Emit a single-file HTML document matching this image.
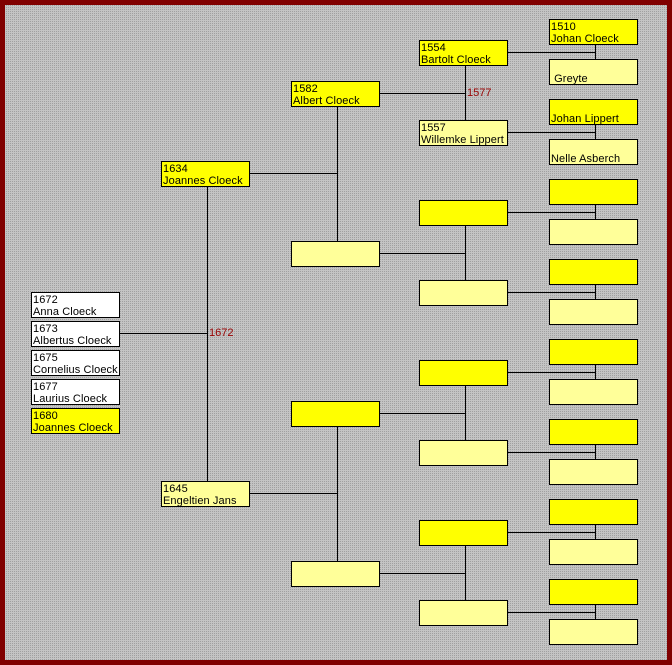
<!DOCTYPE html>
<html><head><meta charset="utf-8"><style>
html,body{margin:0;padding:0}
body{width:672px;height:665px;position:relative;overflow:hidden;background:#800000;font-family:"Liberation Sans",Arial,sans-serif}
#bg{position:absolute;left:5px;top:5px;width:662px;height:655px;background:conic-gradient(#a0a0a0 25%,#c4c4c4 0) 0 0/2px 2px}
.b{position:absolute;width:89px;height:26px;box-sizing:border-box;border:1px solid #000;font-size:11px;line-height:12px;padding:1px 0 0 1px;color:#000;white-space:nowrap;overflow:hidden;letter-spacing:0.1px}
.y{background:#ffff00}.l{background:#ffff99}.w{background:#fff}
.h{position:absolute;height:1px;background:#000}
.v{position:absolute;width:1px;background:#000}
.t{position:absolute;font-size:11px;color:#990000;line-height:12px}
</style></head><body><div id="bg"></div>

<div class="h" style="left:119px;top:333px;width:88px"></div>
<div class="v" style="left:207px;top:186px;height:295px"></div>
<div class="t" style="left:209px;top:327px">1672</div>

<div class="h" style="left:249px;top:173px;width:88px"></div>
<div class="v" style="left:337px;top:106px;height:135px"></div>
<div class="h" style="left:249px;top:493px;width:88px"></div>
<div class="v" style="left:337px;top:426px;height:135px"></div>

<div class="h" style="left:379px;top:93px;width:86px"></div>
<div class="v" style="left:465px;top:65px;height:55px"></div>
<div class="t" style="left:467px;top:87px">1577</div>
<div class="h" style="left:379px;top:253px;width:86px"></div>
<div class="v" style="left:465px;top:225px;height:55px"></div>
<div class="h" style="left:379px;top:413px;width:86px"></div>
<div class="v" style="left:465px;top:385px;height:55px"></div>
<div class="h" style="left:379px;top:573px;width:86px"></div>
<div class="v" style="left:465px;top:545px;height:55px"></div>

<div class="h" style="left:507px;top:52px;width:88px"></div><div class="v" style="left:595px;top:44px;height:15px"></div>
<div class="h" style="left:507px;top:132px;width:88px"></div><div class="v" style="left:595px;top:124px;height:15px"></div>
<div class="h" style="left:507px;top:212px;width:88px"></div><div class="v" style="left:595px;top:204px;height:15px"></div>
<div class="h" style="left:507px;top:292px;width:88px"></div><div class="v" style="left:595px;top:284px;height:15px"></div>
<div class="h" style="left:507px;top:372px;width:88px"></div><div class="v" style="left:595px;top:364px;height:15px"></div>
<div class="h" style="left:507px;top:452px;width:88px"></div><div class="v" style="left:595px;top:444px;height:15px"></div>
<div class="h" style="left:507px;top:532px;width:88px"></div><div class="v" style="left:595px;top:524px;height:15px"></div>
<div class="h" style="left:507px;top:612px;width:88px"></div><div class="v" style="left:595px;top:604px;height:15px"></div>

<div class="b w" style="left:31px;top:292px">1672<br>Anna Cloeck</div>
<div class="b w" style="left:31px;top:321px">1673<br>Albertus Cloeck</div>
<div class="b w" style="left:31px;top:350px">1675<br>Cornelius Cloeck</div>
<div class="b w" style="left:31px;top:379px">1677<br>Laurius Cloeck</div>
<div class="b y" style="left:31px;top:408px">1680<br>Joannes Cloeck</div>

<div class="b y" style="left:161px;top:161px">1634<br>Joannes Cloeck</div>
<div class="b l" style="left:161px;top:481px">1645<br>Engeltien Jans</div>

<div class="b y" style="left:291px;top:81px">1582<br>Albert Cloeck</div>
<div class="b l" style="left:291px;top:241px"></div>
<div class="b y" style="left:291px;top:401px"></div>
<div class="b l" style="left:291px;top:561px"></div>

<div class="b y" style="left:419px;top:40px">1554<br>Bartolt Cloeck</div>
<div class="b l" style="left:419px;top:120px">1557<br>Willemke Lippert</div>
<div class="b y" style="left:419px;top:200px"></div>
<div class="b l" style="left:419px;top:280px"></div>
<div class="b y" style="left:419px;top:360px"></div>
<div class="b l" style="left:419px;top:440px"></div>
<div class="b y" style="left:419px;top:520px"></div>
<div class="b l" style="left:419px;top:600px"></div>

<div class="b y" style="left:549px;top:19px">1510<br>Johan Cloeck</div>
<div class="b l" style="left:549px;top:59px"><br>&nbsp;Greyte</div>
<div class="b y" style="left:549px;top:99px"><br>Johan Lippert</div>
<div class="b l" style="left:549px;top:139px"><br>Nelle Asberch</div>
<div class="b y" style="left:549px;top:179px"></div>
<div class="b l" style="left:549px;top:219px"></div>
<div class="b y" style="left:549px;top:259px"></div>
<div class="b l" style="left:549px;top:299px"></div>
<div class="b y" style="left:549px;top:339px"></div>
<div class="b l" style="left:549px;top:379px"></div>
<div class="b y" style="left:549px;top:419px"></div>
<div class="b l" style="left:549px;top:459px"></div>
<div class="b y" style="left:549px;top:499px"></div>
<div class="b l" style="left:549px;top:539px"></div>
<div class="b y" style="left:549px;top:579px"></div>
<div class="b l" style="left:549px;top:619px"></div>
</body></html>
